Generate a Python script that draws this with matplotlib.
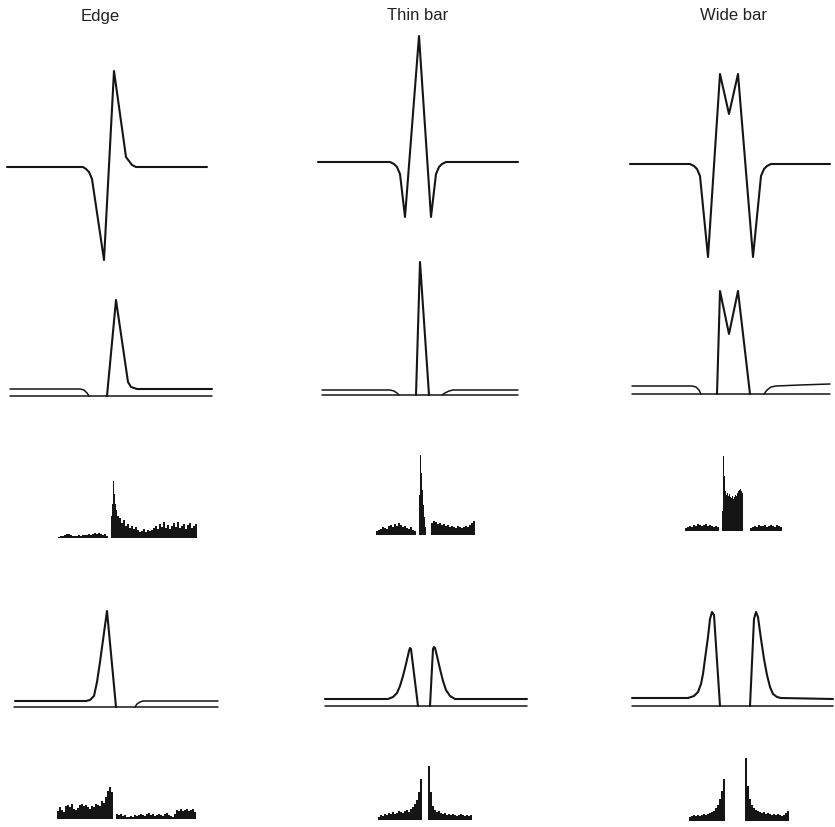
import matplotlib
matplotlib.use("Agg")
import matplotlib.pyplot as plt
import numpy as np

# ---------------- data (position relative to column centre, response height) -------------
titles = ["Edge", "Thin bar", "Wide bar"]

# Row 1 : filter responses (signed)
edge_r1_x = [-100, -24, -21, -18, -15, -3, 7, 19, 22, 25, 29, 100]
edge_r1_y = [0, 0, -2, -5, -12, -93, 96, 10, 6, 2, 0, 0]
thin_r1_x = [-101, -29, -25, -22, -19, -14, 0, 12, 17, 20, 23, 27, 99]
thin_r1_y = [0, 0, -2, -5, -12, -55, 126, -55, -12, -5, -2, 0, 0]
wide_r1_x = [-99, -39, -35, -32, -29, -21, -9, 0, 9, 24, 32, 35, 38, 42, 101]
wide_r1_y = [0, 0, -2, -5, -12, -93, 90, 50, 90, -93, -12, -5, -2, 0, 0]

# Row 2 : half-wave rectified (two traces)
edge_r2_up_x = [-97, -27, -23, -20, -18]
edge_r2_up_y = [7, 7, 6, 3, 0]
edge_r2_on_x = [0, 9, 21, 24, 27, 30, 105]
edge_r2_on_y = [0, 96, 14, 9, 8, 7, 7]
edge_r2_lo_x = [-97, 105]

thin_r2_up_x = [-97, -29, -25, -22, -20]
thin_r2_up_y = [5, 5, 4, 2, 0]
thin_r2_on_x = [-3, 1, 10]
thin_r2_on_y = [0, 133, 0]
thin_r2_rt_x = [23, 26, 30, 34, 99]
thin_r2_rt_y = [0, 2, 4, 5, 5]
thin_r2_lo_x = [-97, 99]

wide_r2_up_x = [-97, -37, -33, -30, -28]
wide_r2_up_y = [8, 8, 7, 4, 0]
wide_r2_on_x = [-12, -9, 0, 9, 21]
wide_r2_on_y = [0, 103, 60, 103, 0]
wide_r2_rt_x = [35, 38, 42, 47, 71, 101]
wide_r2_rt_y = [0, 4, 7, 8, 9, 10]
wide_r2_lo_x = [-97, 101]

# Row 3 : spike histograms (ON)
edge_r3_left = [1, 2, 2, 3, 4, 4, 3, 2, 2, 2, 3, 2, 3, 3, 3, 4, 3, 4, 5, 4, 5, 4, 3, 4, 2]
edge_r3_spike = [22, 34, 57, 44, 34, 28]
edge_r3_right = [22, 20, 15, 18, 12, 14, 10, 12, 9, 11, 8, 6, 7, 9, 6, 8, 7, 8,
                 10, 12, 9, 14, 11, 16, 10, 13, 9, 12, 15, 11, 16, 10, 12, 14, 9, 13, 15, 10, 12, 14]
thin_r3_left = [4, 5, 6, 8, 7, 6, 9, 10, 8, 11, 9, 12, 10, 8, 9, 7, 6, 8, 5, 4]
thin_r3_spike = [40, 80, 62, 45, 30, 18, 8]
thin_r3_right = [12, 14, 13, 11, 12, 10, 11, 9, 10, 8, 9, 8, 7, 9, 8, 7, 8, 9, 8, 10, 12, 14]
wide_r3_left = [3, 4, 5, 4, 6, 5, 7, 6, 5, 6, 7, 5, 6, 5, 4, 5, 4]
wide_r3_block = [20, 75, 55, 40, 36, 38, 35, 37, 34, 33, 35, 32, 34, 36, 35, 38, 40, 41, 42, 40, 38]
wide_r3_right = [3, 4, 5, 4, 6, 5, 5, 6, 4, 5, 6, 5, 4, 6, 5, 4]

# Row 4 : half-wave rectified (OFF)
edge_r4_l_x = [-92, -21, -17, -13, -10, -7, 0, 9]
edge_r4_l_y = [6, 6, 7, 11, 25, 45, 96, 0]
edge_r4_r_x = [28, 30, 33, 36, 111]
edge_r4_r_y = [0, 3, 5, 6, 6]
edge_r4_lo_x = [-93, 111]

thin_r4_l_x = [-94, -31, -26, -22, -19, -16, -13, -10, -9, -8, -1]
thin_r4_l_y = [7, 7, 9, 13, 20, 30, 42, 55, 58, 57, 0]
thin_r4_r_x = [11, 14, 15, 16, 18, 21, 24, 27, 31, 36, 108]
thin_r4_r_y = [0, 57, 59, 58, 50, 37, 25, 16, 10, 7, 7]
thin_r4_lo_x = [-94, 108]

wide_r4_l_x = [-97, -41, -35, -31, -28, -26, -24, -21, -19, -17, -15, -9]
wide_r4_l_y = [8, 8, 10, 14, 22, 32, 47, 69, 87, 94, 91, 0]
wide_r4_r_x = [21, 25, 27, 29, 32, 35, 38, 41, 44, 48, 52, 104]
wide_r4_r_y = [0, 87, 94, 89, 67, 47, 31, 19, 12, 9, 8, 7]
wide_r4_lo_x = [-97, 104]

# Row 5 : spike histograms (OFF)
edge_r5_left = [8, 12, 9, 7, 13, 14, 12, 15, 10, 9, 11, 14, 15, 13, 14, 12, 10, 13, 12, 15,
                14, 13, 18, 16, 22, 28, 32, 27]
edge_r5_right = [5, 4, 5, 3, 4, 2, 2, 3, 2, 4, 3, 4, 5, 4, 3, 5, 6, 4, 5, 3, 4, 5, 4, 3, 5,
                 6, 4, 3, 2, 5, 9, 8, 10, 8, 9, 10, 8, 9, 10, 7]
thin_r5_left = [3, 5, 4, 6, 5, 7, 6, 8, 6, 7, 9, 8, 7, 9, 10, 8, 11, 13, 16, 20, 28, 41]
thin_r5_right = [54, 28, 14, 10, 8, 9, 7, 6, 7, 5, 6, 5, 6, 5, 4, 5, 6, 5, 4, 5, 4, 5]
wide_r5_left = [4, 5, 6, 5, 6, 5, 6, 7, 6, 7, 8, 9, 10, 13, 16, 22, 30, 42]
wide_r5_right = [63, 35, 22, 16, 13, 11, 10, 9, 8, 9, 7, 8, 7, 6, 7, 6, 7, 6, 5, 6, 8, 10]

# ---------------- layout -------------
col_cx = [107, 419, 729]
title_x = [100, 418, 733]
base_r1 = [168, 163, 165]
base_r2 = [397, 396, 395]
base_r3 = [539, 536, 532]
base_r4 = [708, 707, 707]
base_r5 = [820, 821, 822]
INK = "#151515"
LW = 1.5
LW_BASE = 1.1

fig = plt.figure(figsize=(8.35, 8.28), dpi=100)
ax = fig.add_axes([0, 0, 1, 1])
ax.set_xlim(0, 835)
ax.set_ylim(828, 0)
ax.axis("off")


def trace(c, base, xs, ys, lw=LW):
    xs = np.asarray(xs, float) + col_cx[c]
    ys = base - np.asarray(ys, float)
    ax.plot(xs, ys, color=INK, lw=lw, solid_joinstyle="round", solid_capstyle="round")


def hline(c, base, xs, lw=LW_BASE):
    trace(c, base, xs, [0, 0], lw=lw)


def hist(c, base, start, width, heights):
    h = np.asarray(heights, float)
    edges = start + width * np.arange(len(h) + 1)
    ax.stairs(base - h, edges, baseline=base, fill=True, color=INK, lw=0.6)


for c, t in enumerate(titles):
    ax.text(title_x[c], 16, t, ha="center", va="center", fontsize=12, color="#222222",
            family=["Liberation Sans"])

# row 1
trace(0, base_r1[0], edge_r1_x, edge_r1_y)
trace(1, base_r1[1], thin_r1_x, thin_r1_y)
trace(2, base_r1[2], wide_r1_x, wide_r1_y)

# row 2
trace(0, base_r2[0], edge_r2_up_x, edge_r2_up_y, lw=LW_BASE)
trace(0, base_r2[0], edge_r2_on_x, edge_r2_on_y)
hline(0, base_r2[0], edge_r2_lo_x)
trace(1, base_r2[1], thin_r2_up_x, thin_r2_up_y, lw=LW_BASE)
trace(1, base_r2[1], thin_r2_on_x, thin_r2_on_y)
trace(1, base_r2[1], thin_r2_rt_x, thin_r2_rt_y, lw=LW_BASE)
hline(1, base_r2[1], thin_r2_lo_x)
trace(2, base_r2[2], wide_r2_up_x, wide_r2_up_y, lw=LW_BASE)
trace(2, base_r2[2], wide_r2_on_x, wide_r2_on_y)
trace(2, base_r2[2], wide_r2_rt_x, wide_r2_rt_y, lw=LW_BASE)
hline(2, base_r2[2], wide_r2_lo_x)

# row 3
hist(0, base_r3[0], 58, 2, edge_r3_left)
hist(0, base_r3[0], 111, 1, edge_r3_spike)
hist(0, base_r3[0], 117, 2, edge_r3_right)
hist(1, base_r3[1], 376, 2, thin_r3_left)
hist(1, base_r3[1], 419, 1, thin_r3_spike)
hist(1, base_r3[1], 431, 2, thin_r3_right)
hist(2, base_r3[2], 685, 2, wide_r3_left)
hist(2, base_r3[2], 722, 1, wide_r3_block)
hist(2, base_r3[2], 750, 2, wide_r3_right)

# row 4
trace(0, base_r4[0], edge_r4_l_x, edge_r4_l_y)
trace(0, base_r4[0], edge_r4_r_x, edge_r4_r_y, lw=LW_BASE)
hline(0, base_r4[0], edge_r4_lo_x)
trace(1, base_r4[1], thin_r4_l_x, thin_r4_l_y)
trace(1, base_r4[1], thin_r4_r_x, thin_r4_r_y)
hline(1, base_r4[1], thin_r4_lo_x)
trace(2, base_r4[2], wide_r4_l_x, wide_r4_l_y)
trace(2, base_r4[2], wide_r4_r_x, wide_r4_r_y)
hline(2, base_r4[2], wide_r4_lo_x)

# row 5
hist(0, base_r5[0], 57, 2, edge_r5_left)
hist(0, base_r5[0], 116, 2, edge_r5_right)
hist(1, base_r5[1], 378, 2, thin_r5_left)
hist(1, base_r5[1], 428, 2, thin_r5_right)
hist(2, base_r5[2], 689, 2, wide_r5_left)
hist(2, base_r5[2], 745, 2, wide_r5_right)

fig.savefig("out.png", dpi=100)
